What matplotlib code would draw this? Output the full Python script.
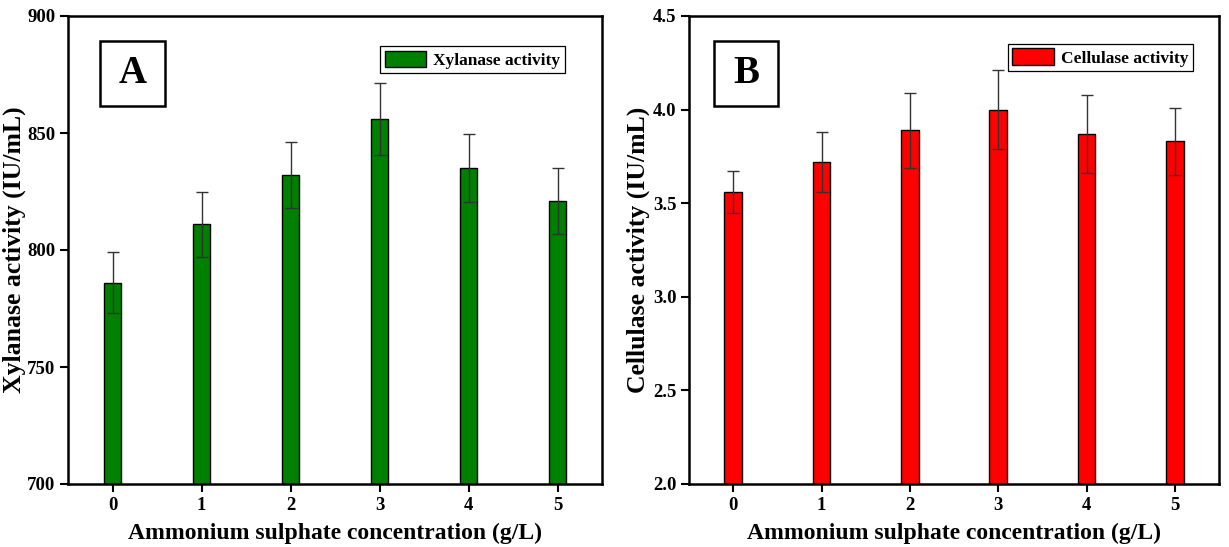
import numpy as np
import matplotlib
matplotlib.use('Agg')
import matplotlib.pyplot as plt
from matplotlib.patches import Rectangle

# data
conc = [0, 1, 2, 3, 4, 5]
xylanase = [786, 811, 832, 856, 835, 821]
xylanase_err = [13, 14, 14, 15.5, 14.5, 14]
cellulase = [3.56, 3.72, 3.89, 4.00, 3.87, 3.83]
cellulase_err = [0.11, 0.16, 0.20, 0.21, 0.21, 0.18]

plt.rcParams['font.family'] = ['Liberation Serif', 'DejaVu Serif']
plt.rcParams['font.weight'] = 'bold'

fig = plt.figure(figsize=(12.29, 5.47), dpi=100)
W, H = 1229.0, 547.0


def panel(rect, vals, errs, color, label, ylabel, ylim, yticks, ylabel_x, letter, box_x, leg_anchor):
	ax = fig.add_axes(rect)
	ax.bar(conc, vals, width=0.2, color=color, edgecolor='black', linewidth=1.0, label=label, zorder=2)
	ax.errorbar(conc, vals, yerr=errs, fmt='none', ecolor='#333333', elinewidth=1.0, capsize=4, capthick=1.0, zorder=3)
	ax.set_xlim(-0.5, 5.5)
	ax.set_ylim(*ylim)
	ax.set_yticks(yticks)
	ax.set_xticks(conc)
	for s in ax.spines.values():
		s.set_linewidth(1.8)
	ax.tick_params(direction='out', length=6, width=1.5, labelsize=13.5, pad=3)
	for t in ax.get_xticklabels() + ax.get_yticklabels():
		t.set_fontweight('bold')
	ax.set_xlabel('Ammonium sulphate concentration (g/L)', fontsize=17, fontweight='bold')
	ax.xaxis.set_label_coords(0.5, -0.082)
	ax.set_ylabel(ylabel, fontsize=18.5, fontweight='bold')
	ax.yaxis.set_label_coords(ylabel_x, 0.5)
	# letter box
	ax.add_patch(Rectangle((box_x, 0.808), 0.121, 0.139, transform=ax.transAxes, fill=False,
		edgecolor='black', linewidth=1.8, zorder=5))
	ax.text(box_x + 0.0605, 0.8775, letter, transform=ax.transAxes, ha='center', va='center',
		fontsize=28, fontweight='bold', zorder=6)
	leg = ax.legend(loc='upper right', bbox_to_anchor=leg_anchor, frameon=True, fancybox=False,
		edgecolor='black', framealpha=1, prop={'size': 12.5, 'weight': 'bold'},
		handlelength=2.4, handleheight=1.1, borderpad=0.25, handletextpad=0.4, borderaxespad=0)
	leg.get_frame().set_linewidth(0.9)
	return ax


panel([68 / W, 1 - 484 / H, 534 / W, 468 / H], xylanase, xylanase_err, '#008000', 'Xylanase activity',
	'Xylanase activity (IU/mL)', (700, 900), [700, 750, 800, 850, 900], -0.079, 'A', 0.06, (0.93, 0.935))
panel([689 / W, 1 - 484 / H, 530 / W, 468 / H], cellulase, cellulase_err, '#ff0000', 'Cellulase activity',
	'Cellulase activity (IU/mL)', (2.0, 4.5), [2.0, 2.5, 3.0, 3.5, 4.0, 4.5], -0.074, 'B', 0.047, (0.95, 0.94))

fig.savefig('out.png', dpi=100)
